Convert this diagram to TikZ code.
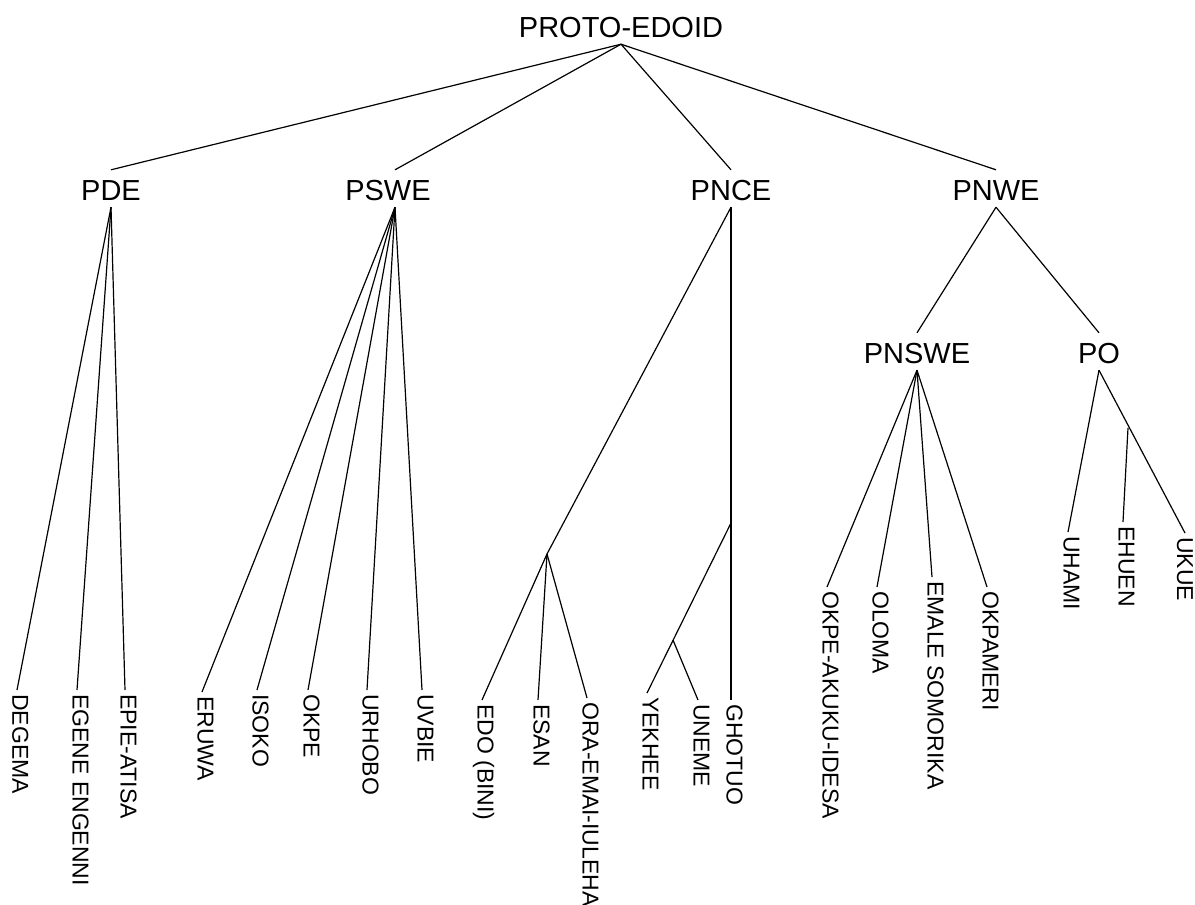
\documentclass[tikz,border=0pt]{standalone}
\usepackage{fontspec}
\setmainfont{Liberation Sans}
\usepackage{tikz}
\tikzset{
    proto/.style={font=\fontsize{29}{34}\selectfont, anchor=base,
                  inner xsep=2pt, inner ysep=4pt, text height=26pt,
                  text depth=3pt},
    lang/.style={font=\fontsize{23}{27}\selectfont, rotate=-90,
                 anchor=west, inner sep=4pt, text height=16pt,
                 text depth=7pt},
    branch/.style={line width=1.2pt, color=black},
}

\begin{document}
\begin{tikzpicture}[x=1pt, y=-1pt]
    \useasboundingbox (0,0) rectangle (1195,905);

    % proto-languages
    \node[proto] (root)  at (621,37)  {PROTO-EDOID};
    \node[proto] (pde)   at (111,200) {PDE};
    \node[proto] (pswe)  at (388,200) {PSWE};
    \node[proto] (pnce)  at (731,200) {PNCE};
    \node[proto] (pnwe)  at (996,200) {PNWE};
    \node[proto] (pnswe) at (917,363) {PNSWE};
    \node[proto] (po)    at (1099,363) {PO};

    % unlabelled splits
    \coordinate (edoj) at (547,554);
    \coordinate (pncej) at (731,523);
    \coordinate (yekj) at (673,640);
    \coordinate (poj) at (1128,428);

    % languages
    \node[lang] (degema) at (17,690)  {DEGEMA};
    \node[lang] (egene)  at (77,690)  {EGENE ENGENNI};
    \node[lang] (epie)   at (125,690) {EPIE-ATISA};
    \node[lang] (eruwa)  at (202,692) {ERUWA};
    \node[lang] (isoko)  at (257,690) {ISOKO};
    \node[lang] (okpe)   at (308,690) {OKPE};
    \node[lang] (urhobo) at (367,690) {URHOBO};
    \node[lang] (uvbie)  at (422,690) {UVBIE};
    \node[lang] (edo)    at (482,700) {EDO (BINI)};
    \node[lang] (esan)   at (538,700) {ESAN};
    \node[lang] (ora)    at (587,698) {ORA-EMAI-IULEHA};
    \node[lang] (yekhee) at (647,693) {YEKHEE};
    \node[lang] (uneme)  at (698,700) {UNEME};
    \node[lang] (ghotuo) at (731,700) {GHOTUO};
    \node[lang] (akuku)  at (827,587) {OKPE-AKUKU-IDESA};
    \node[lang] (oloma)  at (877,587) {OLOMA};
    \node[lang] (emale)  at (932,577) {EMALE SOMORIKA};
    \node[lang] (okpam)  at (987,587) {OKPAMERI};
    \node[lang] (uhami)  at (1068,532) {UHAMI};
    \node[lang] (ehuen)  at (1123,522) {EHUEN};
    \node[lang, text depth=0pt] (ukue) at (1185,533) {UKUE};

    \draw[branch] (root.south) -- (pde.north);
    \draw[branch] (root.south) -- ([xshift=7pt]pswe.north);
    \draw[branch] (root.south) -- (pnce.north);
    \draw[branch] (root.south) -- (pnwe.north);

    \foreach \l in {degema, egene, epie}
        \draw[branch] (pde.south) -- (\l.west);
    \foreach \l in {eruwa, isoko, okpe, urhobo, uvbie}
        \draw[branch] ([xshift=7pt]pswe.south) -- (\l.west);

    \draw[branch] (pnce.south) -- (edoj);
    \foreach \l in {edo, esan, ora}
        \draw[branch] (edoj) -- (\l.west);
    \draw[branch] (pnce.south) -- (ghotuo.west);
    \draw[branch] (pncej) -- (yekhee.west);
    \draw[branch] (yekj) -- (uneme.west);

    \draw[branch] (pnwe.south) -- (pnswe.north);
    \draw[branch] (pnwe.south) -- (po.north);
    \foreach \l in {akuku, oloma, emale, okpam}
        \draw[branch] (pnswe.south) -- (\l.west);
    \draw[branch] (po.south) -- (uhami.west);
    \draw[branch] (po.south) -- (ukue.west);
    \draw[branch] (poj) -- (ehuen.west);
\end{tikzpicture}
\end{document}
